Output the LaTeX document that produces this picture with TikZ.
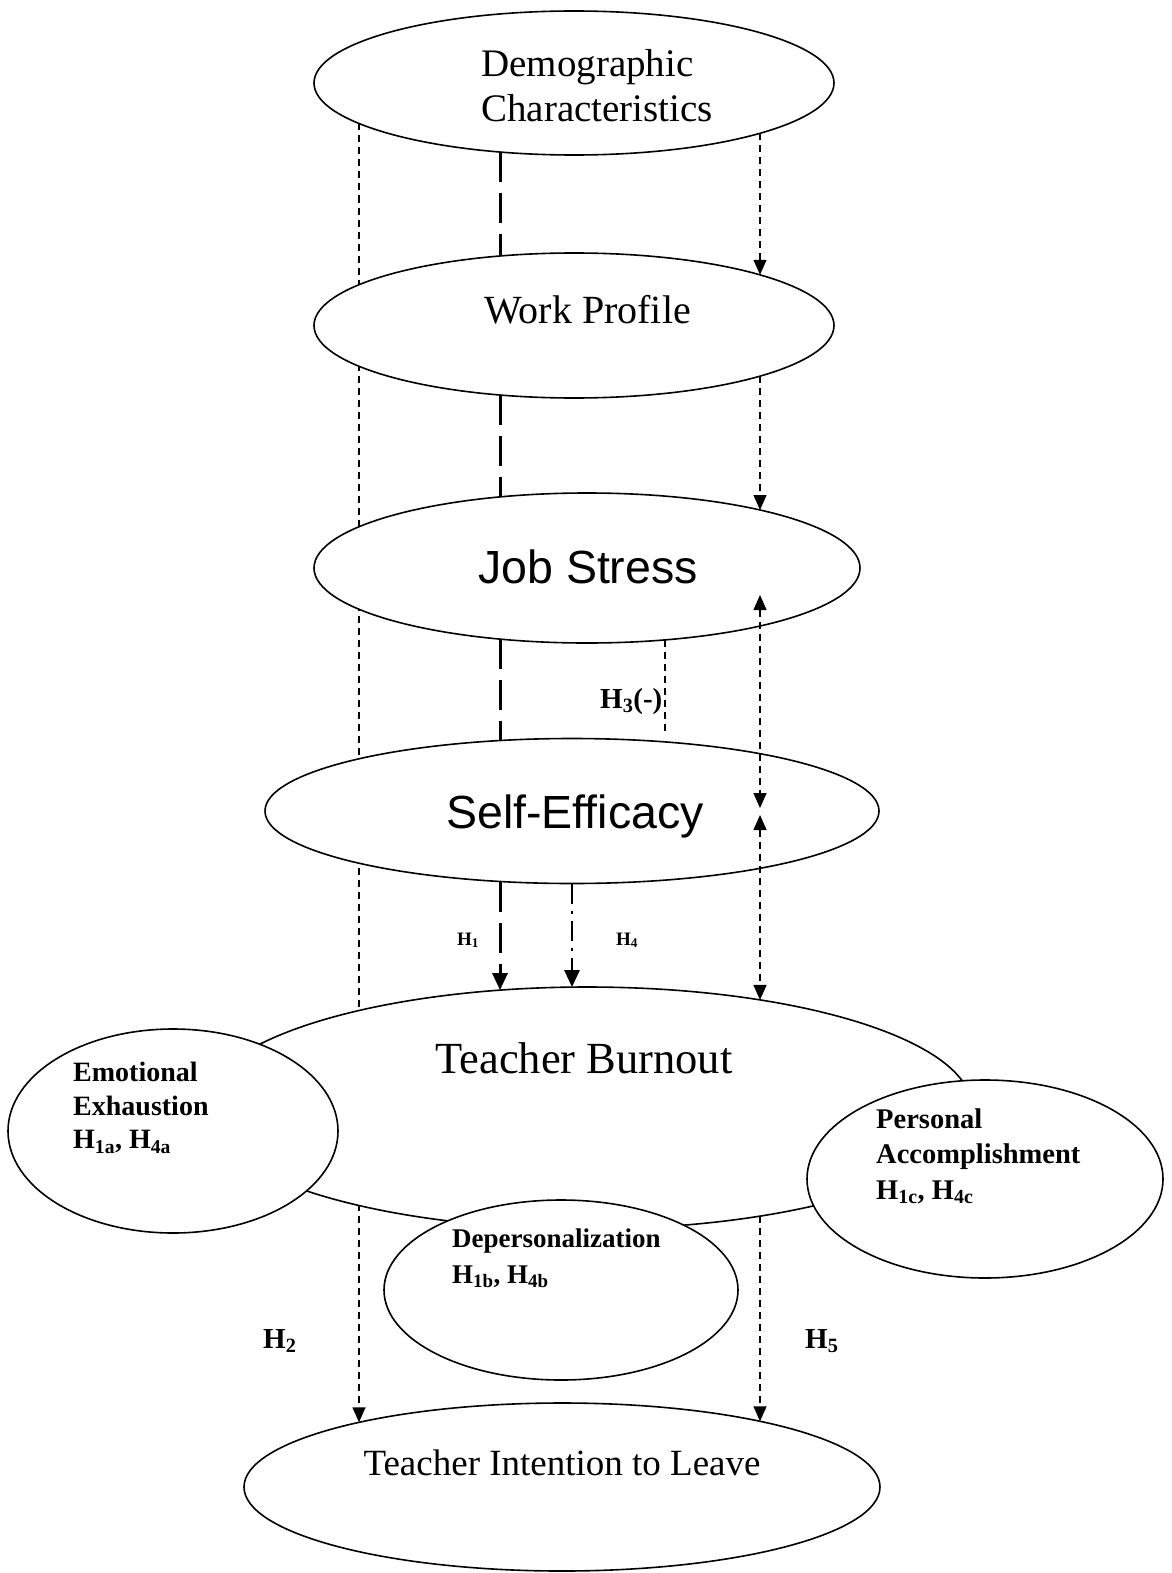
\documentclass[tikz,border=0pt]{standalone}
\usepackage{fontspec}
\setmainfont{Liberation Serif}
\setsansfont{Liberation Sans}
\usetikzlibrary{arrows.meta,calc,backgrounds,shapes.geometric}

\tikzset{
  oval/.style={ellipse, draw, fill=white, line width=1.6pt, inner sep=0pt, outer sep=0pt},
  linkdash/.style={line width=1.4pt, dash pattern=on 7pt off 5pt},
  maindash/.style={line width=3pt, dash pattern=on 30pt off 11pt},
  mixdash/.style={line width=2.6pt, dash pattern=on 20pt off 7pt on 3pt off 7pt},
  bigtip/.style={-{Triangle[length=17pt,width=15pt]}},
  txt/.style={inner sep=0pt, align=left},
  hyp/.style={inner sep=0pt, font=\bfseries\fontsize{29}{34}\selectfont},
  hypsmall/.style={inner sep=0pt, font=\bfseries\fontsize{19}{23}\selectfont}
}

\begin{document}
\begin{tikzpicture}[x=1pt,y=-1pt,>={Triangle[length=15pt,width=13pt]}]
  \useasboundingbox (0,0) rectangle (1171,1573);

  % constructs
  \node[oval, minimum width=520pt, minimum height=144pt] (demo) at (574,83) {};
  \node[oval, minimum width=520pt, minimum height=145pt] (work) at (574,325.5) {};
  \node[oval, minimum width=546pt, minimum height=150pt] (stress) at (587,568) {};
  \node[oval, minimum width=614pt, minimum height=145pt] (eff) at (572,811) {};
  \node[oval, minimum width=770pt, minimum height=242pt] (burn) at (587,1108) {};
  \node[oval, minimum width=330pt, minimum height=204pt] (emo) at (173,1131) {};
  \node[oval, minimum width=356pt, minimum height=198pt] (pers) at (985,1179) {};
  \node[oval, minimum width=354pt, minimum height=180pt] (depers) at (561,1290) {};
  \node[oval, minimum width=636pt, minimum height=168pt] (leave) at (562,1487) {};

  % texts
  \node[txt, anchor=west, font=\fontsize{39}{45}\selectfont] (demoT) at (481,86) {Demographic\\Characteristics};
  \node[txt, anchor=base west, font=\fontsize{40}{46}\selectfont] (workT) at (484,323) {Work Profile};
  \node[txt, anchor=base, font=\sffamily\fontsize{46.5}{52}\selectfont] (stressT) at (588,583) {Job Stress};
  \node[txt, anchor=base, font=\sffamily\fontsize{46.5}{52}\selectfont] (effT) at (575,828) {Self-Efficacy};
  \node[txt, anchor=base, font=\fontsize{44.5}{50}\selectfont] (burnT) at (584,1073) {Teacher Burnout};
  \node[txt, anchor=west, font=\bfseries\fontsize{28}{33.5}\selectfont] (emoT) at (73,1108)
    {Emotional\\Exhaustion\\H\textsubscript{1a}, H\textsubscript{4a}};
  \node[txt, anchor=west, font=\bfseries\fontsize{28.5}{35.5}\selectfont] (persT) at (876,1156)
    {Personal\\Accomplishment\\H\textsubscript{1c}, H\textsubscript{4c}};
  \node[txt, anchor=west, font=\bfseries\fontsize{27}{36}\selectfont] (depersT) at (452,1258)
    {Depersonalization\\H\textsubscript{1b}, H\textsubscript{4b}};
  \node[txt, anchor=base, font=\fontsize{37}{42}\selectfont] (leaveT) at (562,1475) {Teacher Intention to Leave};

  % hypothesis labels
  \node[hypsmall, anchor=base west] (h1) at (457,945) {H\textsubscript{1}};
  \node[hypsmall, anchor=base west] (h4) at (616,945) {H\textsubscript{4}};
  \node[hyp, anchor=base west] (h3) at (600,708) {H\textsubscript{3}(-)};
  \node[hyp, anchor=base west] (h2) at (263,1348) {H\textsubscript{2}};
  \node[hyp, anchor=base west] (h5) at (805,1348) {H\textsubscript{5}};

  % left path, runs behind the ellipses
  \begin{scope}[on background layer]
    \fill[white] (0,0) rectangle (1171,1573);
    \draw[linkdash,->] ($(demo)+(-215,40.5)$) -- ($(leave)+(-203,-64.7)$);
  \end{scope}

  % centre path
  \draw[maindash] ($(demo)+(-74,69)$) -- ($(work)+(-74,-69.5)$);
  \draw[maindash] ($(work)+(-74,69.5)$) -- ($(stress)+(-87,-71.1)$);
  \draw[maindash] ($(stress)+(-87,71.1)$) -- ($(eff)+(-72,-70.5)$);
  \draw[maindash,bigtip] ($(eff)+(-72,70.5)$) -- ($(burn)+(-87,-117.9)$);
  \draw[mixdash,bigtip] (eff.south) -- ($(burn)+(-15,-120.9)$);

  % moderation H3
  \draw[linkdash, shorten >=7pt] ($(stress)+(78,71.9)$) -- ($(eff)+(93,-69.1)$);

  % right path
  \draw[linkdash,->] ($(demo)+(186,50.3)$) -- ($(work)+(186,-50.7)$);
  \draw[linkdash,->] ($(work)+(186,50.7)$) -- ($(stress)+(173,-58)$);
  \draw[linkdash,<->] ($(stress)+(173,27)$) -- ($(eff)+(188,-3)$);
  \draw[linkdash,<->] ($(eff)+(188,4)$) -- ($(burn)+(173,-108.1)$);
  \draw[linkdash,->] ($(burn)+(173,108.1)$) -- ($(leave)+(198,-65.7)$);
\end{tikzpicture}
\end{document}
